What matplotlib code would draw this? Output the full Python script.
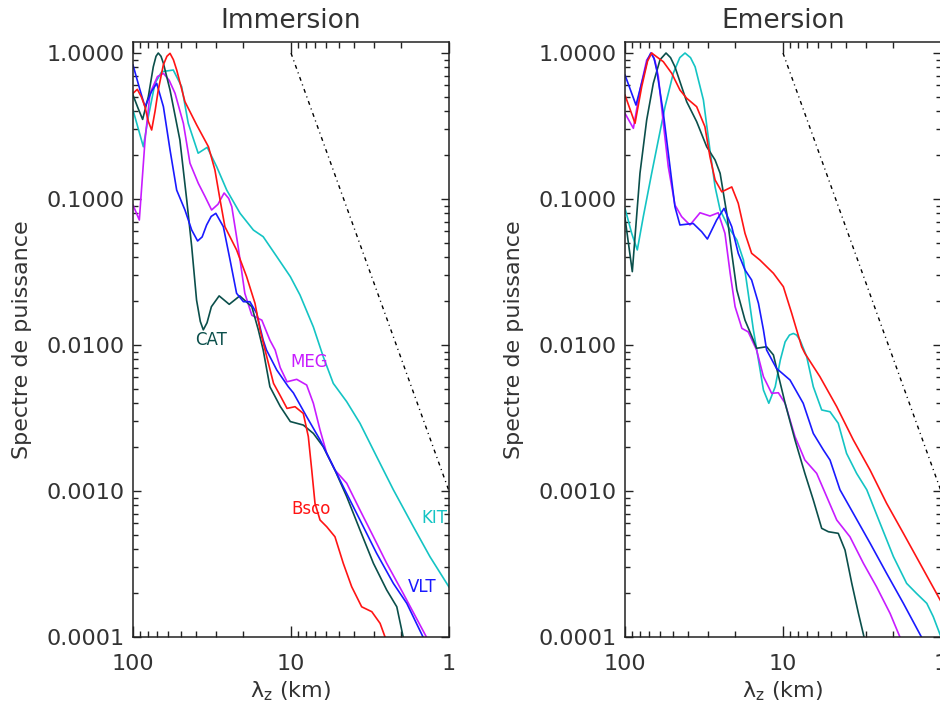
import matplotlib
matplotlib.use("Agg")
import matplotlib.pyplot as plt
from matplotlib.ticker import LogLocator, FuncFormatter, NullFormatter

plt.rcParams['font.family'] = ['DejaVu Sans']
plt.rcParams['mathtext.fontset'] = 'dejavusans'

# === Data (wavelength km, normalised power) ===
# Immersion
imm_cat_lam = [100, 93, 86.9, 80.0, 74.4, 71.5, 69.2, 66.5, 64.2, 58.3, 50.5, 45.7, 42.5, 39.6,
               37.5, 35.9, 34.0, 31.9, 28.5, 24.6, 21.1, 17.7, 16.1, 15.0, 13.6, 11.7, 10.1, 8.36,
               7.22, 6.25, 5.27, 4.44, 3.66, 3.01, 2.48, 2.14, 1.95, 1.85]
imm_cat_pow = [0.515, 0.42, 0.351, 0.502, 0.805, 0.95, 1.0, 0.95, 0.85, 0.558, 0.254, 0.0984,
               0.0471, 0.0203, 0.0145, 0.0127, 0.0142, 0.0183, 0.0217, 0.0190, 0.0217, 0.0183,
               0.0127, 0.00925, 0.00518, 0.00380, 0.00299, 0.00283, 0.00248, 0.00201, 0.00139,
               0.000915, 0.000541, 0.00032, 0.00021, 0.000161, 0.0001, 0.00008]

imm_meg_lam = [100, 91.2, 83.9, 78.0, 70.0, 64.2, 59.0, 54.2, 48.0, 43.6, 38.6, 35.0, 31.8, 29.0,
               26.5, 24.8, 23.7, 21.6, 19.6, 17.7, 15.3, 13.6, 12.6, 11.7, 10.6, 9.2, 7.96, 7.22,
               6.55, 5.94, 5.27, 4.44, 3.66, 3.01, 2.48, 1.95, 1.39, 1.3]
imm_meg_pow = [0.091, 0.0718, 0.254, 0.53, 0.69, 0.726, 0.65, 0.53, 0.33, 0.176, 0.128, 0.104,
               0.0841, 0.092, 0.110, 0.101, 0.0886, 0.0471, 0.0226, 0.016, 0.0148, 0.0108, 0.00925,
               0.0070, 0.0056, 0.00582, 0.00532, 0.00399, 0.00262, 0.00181, 0.00139, 0.00113,
               0.000741, 0.000487, 0.00032, 0.000199, 0.0001, 0.000085]

imm_vlt_lam = [100, 90.3, 84.0, 76.0, 70.8, 64.2, 58.3, 52.9, 46.9, 42.5, 39.0, 36.5, 34.2, 32.0,
               29.9, 26.8, 24.3, 22.1, 20.0, 18.2, 16.5, 15.0, 14.3, 12.3, 10.4, 9.66, 7.96, 6.55,
               5.66, 4.67, 3.66, 2.87, 2.25, 1.85, 1.46, 1.38]
imm_vlt_pow = [0.828, 0.558, 0.429, 0.55, 0.62, 0.429, 0.217, 0.115, 0.0841, 0.0613, 0.0516,
               0.055, 0.0664, 0.076, 0.0798, 0.0646, 0.0382, 0.0226, 0.0198, 0.0198, 0.0165, 0.0108,
               0.00925, 0.00674, 0.00518, 0.00470, 0.00323, 0.00224, 0.00163, 0.00107, 0.000633,
               0.000374, 0.000233, 0.00017, 0.0001, 0.000088]

imm_bsco_lam = [100, 93.9, 88.5, 84.0, 80.0, 76.2, 72.5, 69.2, 64.3, 61.0, 58.3, 55.5, 52.9, 46.9,
                39.5, 33.3, 30.3, 28.1, 26.2, 22.1, 19.1, 16.9, 15.7, 14.6, 12.9, 11.7, 10.6, 9.43,
                8.36, 7.77, 7.39, 7.05, 6.55, 5.94, 5.27, 4.67, 4.13, 3.57, 3.08, 2.73, 2.54, 2.45]
imm_bsco_pow = [0.53, 0.564, 0.50, 0.429, 0.34, 0.297, 0.40, 0.558, 0.828, 0.95, 0.995, 0.9, 0.765,
                0.464, 0.321, 0.228, 0.158, 0.0984, 0.0646, 0.0448, 0.0294, 0.0193, 0.0127,
                0.00925, 0.00546, 0.0045, 0.00368, 0.00378, 0.0034, 0.00236, 0.00139, 0.000824,
                0.000633, 0.000569, 0.000486, 0.00032, 0.000221, 0.000161, 0.000149, 0.000124,
                0.0001, 0.000085]

imm_kit_lam = [100, 86.0, 80.0, 72.6, 65.8, 55.6, 49.2, 44.7, 38.7, 33.9, 29.5, 25.5, 21.0, 17.3,
               15.0, 12.3, 10.1, 8.77, 7.22, 6.25, 5.4, 4.44, 3.66, 2.87, 2.25, 1.68, 1.32, 1.0]
imm_kit_pow = [0.407, 0.228, 0.366, 0.62, 0.745, 0.765, 0.588, 0.33, 0.206, 0.226, 0.166, 0.115,
               0.0798, 0.0613, 0.0552, 0.0403, 0.0294, 0.0220, 0.0133, 0.00832, 0.00546, 0.00409,
               0.00291, 0.00172, 0.00102, 0.000569, 0.000355, 0.00022]

# Emersion
emr_cat_lam = [100, 89.9, 80.4, 72.9, 66.2, 60.0, 55.0, 51.5, 48.3, 40.7, 35.2, 30.4, 26.9, 25.0,
               22.7, 21.1, 19.6, 17.4, 15.4, 14.7, 12.7, 11.5, 10.4, 9.7, 8.4, 7.27, 6.43, 5.69,
               5.16, 4.47, 4.05, 3.67, 3.33, 3.07, 2.95]
emr_cat_pow = [0.0741, 0.0318, 0.15, 0.348, 0.62, 0.9, 1.0, 0.93, 0.805, 0.464, 0.339, 0.228, 0.185,
               0.15, 0.0798, 0.0425, 0.0238, 0.0148, 0.0108, 0.0095, 0.00973, 0.00855, 0.00546,
               0.0040, 0.00224, 0.00132, 0.000868, 0.000555, 0.000526, 0.000513, 0.000394,
               0.000233, 0.000145, 0.0001, 0.000085]

emr_meg_lam = [100, 88.5, 80.4, 72.9, 67.8, 64.5, 61.5, 57.2, 53.2, 48.3, 43.8, 38.8, 33.5, 29.0,
               25.7, 23.3, 21.6, 20.1, 18.2, 16.6, 14.7, 13.3, 11.8, 10.7, 9.7, 8.4, 7.27, 6.12,
               5.29, 4.57, 3.77, 3.1, 2.56, 2.1, 1.82, 1.75]
emr_meg_pow = [0.386, 0.305, 0.558, 0.895, 1.0, 0.88, 0.688, 0.33, 0.166, 0.091, 0.0757, 0.0664,
               0.0805, 0.0765, 0.0805, 0.0582, 0.031, 0.0183, 0.013, 0.0123, 0.00925, 0.00607,
               0.00467, 0.00471, 0.00399, 0.00236, 0.00163, 0.00132, 0.000915, 0.000633, 0.000486,
               0.00032, 0.000221, 0.000145, 0.0001, 0.000088]

emr_vlt_lam = [100, 85.2, 76.6, 72.0, 68.7, 65.5, 63.0, 57.2, 51.9, 48.3, 44.9, 37.0, 32.7, 30.1,
               26.3, 23.6, 21.1, 19.2, 17.4, 15.8, 14.3, 13.3, 12.7, 11.0, 9.03, 7.45, 6.43, 5.55,
               5.04, 4.36, 3.59, 2.81, 2.21, 1.73, 1.33, 1.27]
emr_vlt_pow = [0.707, 0.44, 0.688, 0.9, 1.0, 0.92, 0.765, 0.387, 0.166, 0.0886, 0.0664, 0.068,
               0.0597, 0.0532, 0.0718, 0.0863, 0.0646, 0.0425, 0.0327, 0.0279, 0.0193, 0.0127,
               0.00925, 0.00692, 0.00576, 0.00399, 0.00248, 0.00191, 0.00163, 0.00102, 0.000703,
               0.000439, 0.000273, 0.00017, 0.0001, 0.00009]

emr_bsco_lam = [100, 86.4, 78.4, 72.0, 67.8, 62.0, 57.2, 50.6, 44.9, 40.7, 35.2, 31.2, 29.0, 26.9,
                24.4, 21.1, 19.2, 17.4, 15.8, 14.0, 11.5, 9.95, 8.81, 7.62, 7.27, 5.84, 4.57, 3.59,
                2.81, 2.21, 1.73, 1.36, 1.0]
emr_bsco_pow = [0.515, 0.33, 0.588, 0.88, 1.0, 0.93, 0.872, 0.726, 0.558, 0.49, 0.429, 0.313, 0.195,
                0.135, 0.112, 0.121, 0.0935, 0.0582, 0.0425, 0.0382, 0.031, 0.0251, 0.0165,
                0.00973, 0.00877, 0.00607, 0.00378, 0.00224, 0.00139, 0.000824, 0.000513, 0.00032,
                0.000175]

emr_kit_lam = [100, 90.7, 83.6, 76.6, 67.8, 61.5, 55.8, 49.5, 45.0, 41.7, 38.5, 36.0, 31.9, 29.0,
               26.9, 25.0, 22.2, 19.6, 17.8, 16.6, 15.4, 14.3, 13.3, 12.3, 11.2, 10.4, 9.7, 9.1,
               8.6, 8.2, 7.8, 7.08, 6.43, 5.69, 5.04, 4.47, 3.96, 3.42, 2.95, 2.43, 2.0, 1.65,
               1.43, 1.23, 1.12, 1.0]
emr_kit_pow = [0.0863, 0.0582, 0.0448, 0.0757, 0.15, 0.254, 0.429, 0.726, 0.93, 1.0, 0.93, 0.805,
               0.477, 0.217, 0.121, 0.0841, 0.0646, 0.0524, 0.0382, 0.0226, 0.0127, 0.00789,
               0.00492, 0.00399, 0.00518, 0.00789, 0.0105, 0.0117, 0.012, 0.0117, 0.0108, 0.00832,
               0.00518, 0.00359, 0.00349, 0.00291, 0.00181, 0.00132, 0.00102, 0.000601, 0.000355,
               0.000233, 0.000199, 0.00017, 0.000138, 0.0001]

# reference slope line (lambda^3)
ref_lam = [10, 1]
ref_pow = [1.0, 0.001]

# station labels (Immersion panel only)
label_names = ["CAT", "MEG", "Bsco", "KIT", "VLT"]
label_lam = [32.1, 7.69, 7.46, 1.245, 1.48]
label_pow = [0.0108, 0.00765, 0.00075, 0.00065, 0.00022]

COLORS = {"CAT": "#0b4f4b", "MEG": "#c81cff", "VLT": "#1a1aff",
          "Bsco": "#ff1414", "KIT": "#14c4c4"}
TXT = "#333333"

fig = plt.figure(figsize=(9.4, 7.07), dpi=100)


def style_axes(ax, title):
    ax.set_xscale("log")
    ax.set_yscale("log")
    ax.set_xlim(100, 1)
    ax.set_ylim(1e-4, 1.19)
    ax.xaxis.set_major_locator(LogLocator(base=10))
    ax.xaxis.set_minor_locator(LogLocator(base=10, subs=range(2, 10)))
    ax.yaxis.set_major_locator(LogLocator(base=10))
    ax.yaxis.set_minor_locator(LogLocator(base=10, subs=range(2, 10)))
    ax.xaxis.set_major_formatter(FuncFormatter(lambda v, p: f"{v:g}"))
    ax.yaxis.set_major_formatter(FuncFormatter(lambda v, p: f"{v:.4f}"))
    ax.xaxis.set_minor_formatter(NullFormatter())
    ax.yaxis.set_minor_formatter(NullFormatter())
    ax.tick_params(which="both", direction="in", top=True, right=True,
                   colors="#222222", labelcolor=TXT, labelsize=16, width=1.0)
    ax.tick_params(axis="x", which="major", length=8, pad=12)
    ax.tick_params(axis="x", which="minor", length=4)
    ax.tick_params(axis="y", which="major", length=6, pad=6)
    ax.tick_params(axis="y", which="minor", length=3.5)
    for s in ax.spines.values():
        s.set_color("#222222")
        s.set_linewidth(1.1)
    ax.set_title(title, fontsize=19, color=TXT, pad=10)
    ax.set_xlabel("λ$_{\\mathrm{z}}$ (km)", fontsize=16, color=TXT, labelpad=4)
    ax.set_ylabel("Spectre de puissance", fontsize=16, color=TXT)
    ax.yaxis.set_label_coords(-0.32, 0.5)
    ax.plot(ref_lam, ref_pow, color="black", lw=1.0, dashes=(2.8, 2.8, 0.8, 2.8))


# === Immersion ===
ax1 = fig.add_axes([133 / 940, 70 / 707, 316 / 940, 595 / 707])
style_axes(ax1, "Immersion")
ax1.plot(imm_kit_lam, imm_kit_pow, color=COLORS["KIT"], lw=1.2)
ax1.plot(imm_meg_lam, imm_meg_pow, color=COLORS["MEG"], lw=1.2)
ax1.plot(imm_cat_lam, imm_cat_pow, color=COLORS["CAT"], lw=1.2)
ax1.plot(imm_vlt_lam, imm_vlt_pow, color=COLORS["VLT"], lw=1.2)
ax1.plot(imm_bsco_lam, imm_bsco_pow, color=COLORS["Bsco"], lw=1.2)
for name, lx, ly in zip(label_names, label_lam, label_pow):
    ax1.text(lx, ly, name, color=COLORS[name], fontsize=12, ha="center", va="center")

# === Emersion ===
ax2 = fig.add_axes([625 / 940, 70 / 707, 316 / 940, 595 / 707])
style_axes(ax2, "Emersion")
ax2.plot(emr_kit_lam, emr_kit_pow, color=COLORS["KIT"], lw=1.2)
ax2.plot(emr_meg_lam, emr_meg_pow, color=COLORS["MEG"], lw=1.2)
ax2.plot(emr_cat_lam, emr_cat_pow, color=COLORS["CAT"], lw=1.2)
ax2.plot(emr_vlt_lam, emr_vlt_pow, color=COLORS["VLT"], lw=1.2)
ax2.plot(emr_bsco_lam, emr_bsco_pow, color=COLORS["Bsco"], lw=1.2)

fig.savefig("out.png", dpi=100)
